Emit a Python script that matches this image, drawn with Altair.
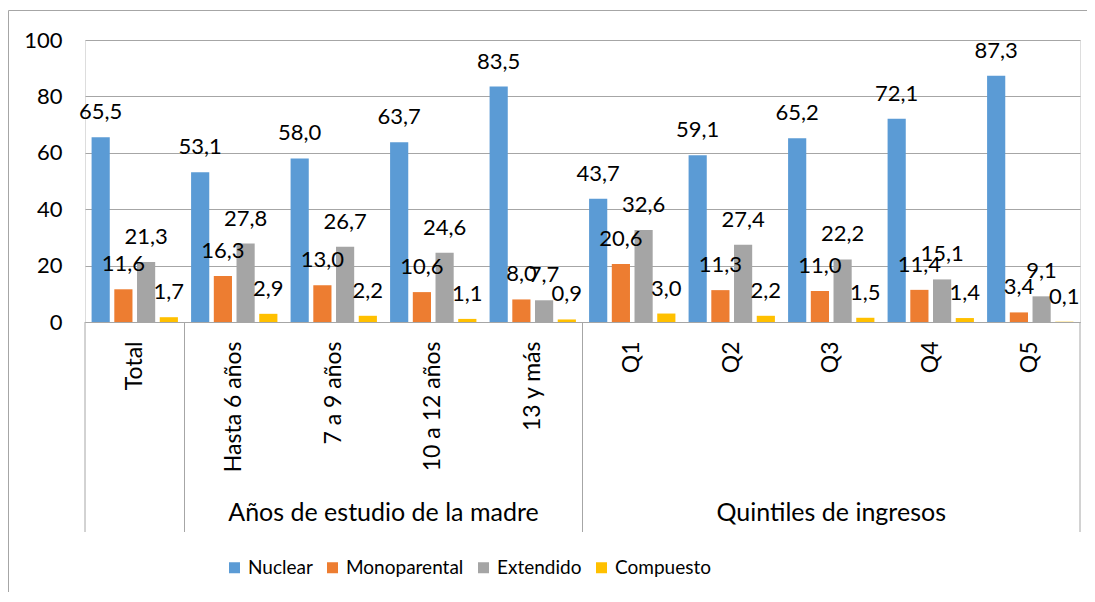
import altair as alt
import pandas as pd

categories = ["Total", "Hasta 6 años", "7 a 9 años", "10 a 12 años", "13 y más",
              "Q1", "Q2", "Q3", "Q4", "Q5"]
series = ["Nuclear", "Monoparental", "Extendido", "Compuesto"]
nuclear = [65.5, 53.1, 58.0, 63.7, 83.5, 43.7, 59.1, 65.2, 72.1, 87.3]
monoparental = [11.6, 16.3, 13.0, 10.6, 8.0, 20.6, 11.3, 11.0, 11.4, 3.4]
extendido = [21.3, 27.8, 26.7, 24.6, 7.7, 32.6, 27.4, 22.2, 15.1, 9.1]
compuesto = [1.7, 2.9, 2.2, 1.1, 0.9, 3.0, 2.2, 1.5, 1.4, 0.1]
colors = ["#5B9BD5", "#ED7D31", "#A5A5A5", "#FFC000"]
y_ticks = [0, 20, 40, 60, 80, 100]
group_labels = ["Años de estudio de la madre", "Quintiles de ingresos"]
separator_cats = ["Total", "Hasta 6 años", "Q1"]
separator_end = ["Q5"]

FONT = "Lato"
GRAY = "#a6a6a6"

rows = []
for name, vals in zip(series, [nuclear, monoparental, extendido, compuesto]):
    for c, v in zip(categories, vals):
        rows.append({"cat": c, "serie": name, "valor": v,
                     "lab": f"{v:.1f}".replace(".", ",")})
df = pd.DataFrame(rows)

x_main = alt.X("cat:N", sort=categories,
               scale=alt.Scale(paddingInner=0, paddingOuter=0),
               axis=alt.Axis(title=None, labelAngle=-90, labelFontSize=23, labelPadding=19,
                             ticks=False, domainColor=GRAY, grid=False, labelColor="#000",
                             labelFont=FONT, labelOverlap=False))
xoff = alt.XOffset("serie:N", sort=series,
                   scale=alt.Scale(paddingInner=0.2, paddingOuter=0.29))
y_main = alt.Y("valor:Q", scale=alt.Scale(domain=[0, 100], nice=False),
               axis=alt.Axis(values=y_ticks, title=None, domain=False, ticks=False,
                             labelPadding=23, gridColor=GRAY, labelFontSize=22,
                             labelColor="#000", labelFont=FONT))

bars = alt.Chart(df).mark_bar().encode(
    x=x_main, xOffset=xoff, y=y_main,
    color=alt.Color("serie:N", sort=series,
                    scale=alt.Scale(domain=series, range=colors),
                    legend=alt.Legend(title=None, orient="none", direction="horizontal",
                                      legendX=140, legendY=518, symbolType="square",
                                      symbolSize=121, labelFontSize=19, columnPadding=10,
                                      labelOffset=4, symbolStrokeWidth=0,
                                      labelColor="#000", labelFont=FONT, padding=0)),
)

texts = alt.Chart(df).mark_text(dy=-25, fontSize=22, font=FONT, color="#000",
                                baseline="middle").encode(
    x=alt.X("cat:N", sort=categories), xOffset=alt.XOffset("serie:N", sort=series),
    y=alt.Y("valor:Q"), text="lab:N")

sep = alt.Chart(pd.DataFrame({"cat": separator_cats})).mark_rule(color=GRAY, strokeWidth=1).encode(
    x=alt.X("cat:N", sort=categories, bandPosition=0),
    y=alt.value(282), y2=alt.value(492))
sep2 = alt.Chart(pd.DataFrame({"cat": separator_end})).mark_rule(color=GRAY, strokeWidth=1).encode(
    x=alt.X("cat:N", sort=categories, bandPosition=1),
    y=alt.value(282), y2=alt.value(492))

g1 = alt.Chart(pd.DataFrame({"cat": ["10 a 12 años"], "g": [group_labels[0]]})).mark_text(
    fontSize=25, font=FONT, color="#000", baseline="middle").encode(
    x=alt.X("cat:N", sort=categories, bandPosition=0), y=alt.value(473), text="g:N")
g2 = alt.Chart(pd.DataFrame({"cat": ["Q3"], "g": [group_labels[1]]})).mark_text(
    fontSize=25, font=FONT, color="#000", baseline="middle").encode(
    x=alt.X("cat:N", sort=categories, bandPosition=0.5), y=alt.value(473), text="g:N")

border = alt.Chart(pd.DataFrame({"a": [0]})).mark_rect(
    fillOpacity=0, stroke=GRAY, strokeWidth=1).encode(
    x=alt.value(-76.5), x2=alt.value(1100), y=alt.value(-29.5), y2=alt.value(700))

chart = alt.layer(border, bars, texts, sep, sep2, g1, g2).properties(
    width=995, height=282,
    autosize=alt.AutoSizeParams(type="none"),
    padding={"left": 77, "top": 32, "right": 7, "bottom": 270},
).configure_view(stroke="transparent").configure(font=FONT)

chart.save("out.html", embed_options={"renderer": "svg", "actions": False})
